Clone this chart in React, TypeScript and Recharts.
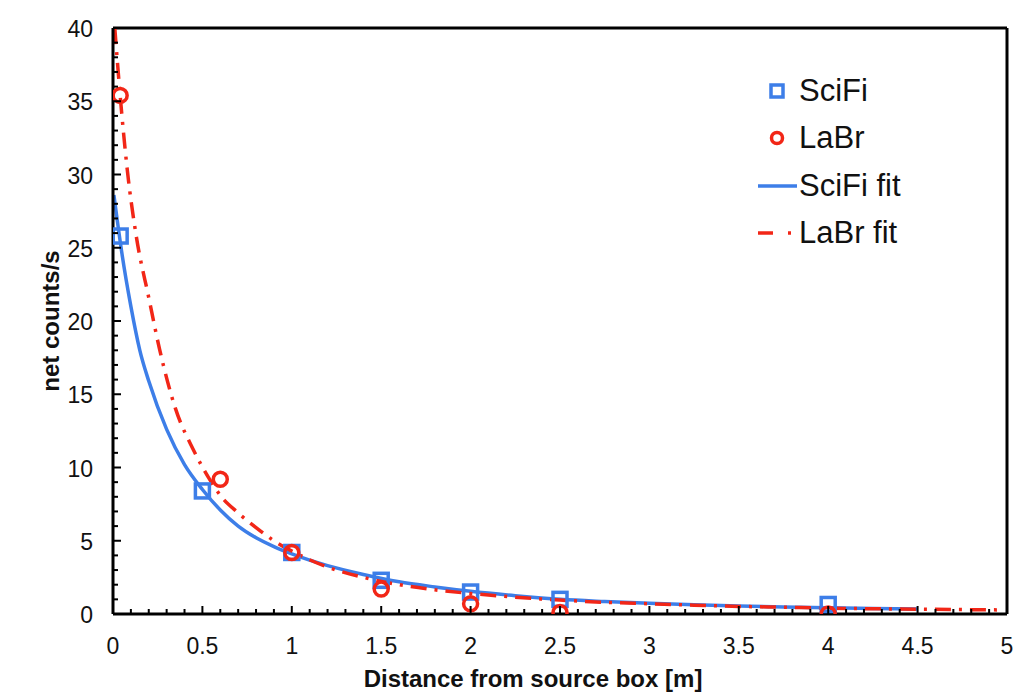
import { ComposedChart, Line, Scatter, XAxis, YAxis, ReferenceLine, Legend } from 'recharts';

// measured points
const sciFiX = [0.04, 0.5, 1, 1.5, 2, 2.5, 4];
const sciFiY = [25.8, 8.4, 4.2, 2.3, 1.5, 1.0, 0.65];
const laBrX = [0.04, 0.6, 1, 1.5, 2, 2.5, 4];
const laBrY = [35.4, 9.2, 4.2, 1.7, 0.7, 0.1, 0.0];

// fit curves
const sciFiFitX = [0.005, 0.05, 0.1, 0.15, 0.2, 0.3, 0.4, 0.5, 0.6, 0.7, 0.8, 0.9, 1.0, 1.2, 1.4, 1.6, 1.8, 2.0, 2.25, 2.5, 2.75, 3.0, 3.25, 3.5, 3.75, 4.0, 4.25, 4.5];
const sciFiFitY = [28.6, 24.6, 21.0, 18.0, 15.9, 12.6, 10.2, 8.5, 7.1, 6.0, 5.2, 4.6, 4.1, 3.3, 2.7, 2.2, 1.85, 1.55, 1.25, 1.0, 0.85, 0.73, 0.63, 0.55, 0.48, 0.43, 0.38, 0.34];
const laBrFitX = [0.01, 0.04, 0.08, 0.13, 0.2, 0.26, 0.35, 0.45, 0.55, 0.6, 0.7, 0.8, 0.9, 1.0, 1.2, 1.4, 1.6, 1.8, 2.0, 2.25, 2.5, 2.75, 3.0, 3.25, 3.5, 3.75, 4.0, 4.25, 4.5, 4.75, 4.95];
const laBrFitY = [40, 35.4, 30.3, 25.8, 21.6, 18.1, 14.0, 11.2, 9.0, 8.1, 6.9, 5.9, 5.0, 4.3, 3.2, 2.5, 2.0, 1.65, 1.4, 1.15, 0.95, 0.8, 0.7, 0.6, 0.52, 0.46, 0.4, 0.36, 0.33, 0.3, 0.28];

const xTicks = Array.from({ length: 51 }, (_, i) => i / 10);
const yTicks = Array.from({ length: 41 }, (_, i) => i);

const zip = (xs: number[], ys: number[]) => xs.map((x, i) => ({ x, y: ys[i] }));

const BLUE = '#3d7ee8';
const RED = '#f22617';
const FONT = '"Liberation Sans", Arial, sans-serif';

function XTick({ x, y, payload }: any) {
  const v = payload.value;
  const major = Math.abs(v * 2 - Math.round(v * 2)) < 1e-6;
  return (
    <g>
      <line x1={x} x2={x} y1={y} y2={y - (major ? 8 : 5)} stroke="#000" strokeWidth={2} />
      {major && (
        <text x={x} y={y + 32} textAnchor="middle" dominantBaseline="central" fontSize={23} fontFamily={FONT} fill="#111">
          {v}
        </text>
      )}
    </g>
  );
}

function YTick({ x, y, payload }: any) {
  const v = payload.value;
  const major = v % 5 === 0;
  return (
    <g>
      <line x1={x} x2={x + (major ? 8 : 5)} y1={y} y2={y} stroke="#000" strokeWidth={2} />
      {major && (
        <text x={x - 20} y={y + 1} textAnchor="end" dominantBaseline="central" fontSize={23} fontFamily={FONT} fill="#111">
          {v}
        </text>
      )}
    </g>
  );
}

const squareShape = ({ cx, cy }: any) => (
  <rect x={cx - 7} y={cy - 7} width={14} height={14} fill="none" stroke={BLUE} strokeWidth={3.5} />
);
const circleShape = ({ cx, cy }: any) => (
  <circle cx={cx} cy={cy} r={7} fill="none" stroke={RED} strokeWidth={3.5} />
);

function LegendBox() {
  const row = { display: 'flex', alignItems: 'center', height: 47.5 } as const;
  const label = { fontSize: 31, fontFamily: FONT, color: '#111', marginLeft: 1 } as const;
  return (
    <div>
      <div style={row}>
        <svg width={42} height={20}><rect x={15} y={4} width={12} height={12} fill="none" stroke={BLUE} strokeWidth={3.5} /></svg>
        <span style={label}>SciFi</span>
      </div>
      <div style={row}>
        <svg width={42} height={20}><circle cx={21} cy={10} r={5.5} fill="none" stroke={RED} strokeWidth={3.5} /></svg>
        <span style={label}>LaBr</span>
      </div>
      <div style={row}>
        <svg width={42} height={20}><line x1={2} x2={41} y1={10} y2={10} stroke={BLUE} strokeWidth={3.5} /></svg>
        <span style={label}>SciFi fit</span>
      </div>
      <div style={row}>
        <svg width={42} height={20}>
          <line x1={2} x2={17} y1={10} y2={10} stroke={RED} strokeWidth={3.5} />
          <line x1={32} x2={35} y1={10} y2={10} stroke={RED} strokeWidth={3.5} />
        </svg>
        <span style={label}>LaBr fit</span>
      </div>
    </div>
  );
}

export default function App() {
  return (
    <ComposedChart width={1015} height={685} margin={{ top: 20, right: 16, bottom: 9, left: 0 }} style={{ background: '#fff' }}>
      <XAxis
        type="number"
        dataKey="x"
        domain={[0, 5]}
        ticks={xTicks}
        interval={0}
        tickSize={0}
        tickMargin={0}
        tickLine={false}
        tick={<XTick />}
        axisLine={{ stroke: '#000', strokeWidth: 3 }}
        height={70}
        allowDataOverflow
        label={{
          content: ({ viewBox }: any) => (
            <text x={viewBox.x + 420} y={viewBox.y + 64} textAnchor="middle" dominantBaseline="central" fontSize={24} fontWeight="bold" fontFamily={FONT} fill="#111">
              Distance from source box [m]
            </text>
          ),
        }}
      />
      <YAxis
        type="number"
        domain={[0, 40]}
        ticks={yTicks}
        interval={0}
        tickSize={0}
        tickMargin={0}
        tickLine={false}
        tick={<YTick />}
        axisLine={{ stroke: '#000', strokeWidth: 3 }}
        width={105}
        allowDataOverflow
        label={{
          content: ({ viewBox }: any) => {
            const cx = viewBox.x + 42;
            const cy = viewBox.y + viewBox.height / 2;
            return (
              <text x={cx} y={cy} transform={`rotate(-90 ${cx} ${cy})`} textAnchor="middle" dominantBaseline="central" fontSize={24} fontWeight="bold" fontFamily={FONT} fill="#111">
                net counts/s
              </text>
            );
          },
        }}
      />
      <ReferenceLine y={40} stroke="#000" strokeWidth={3} />
      <ReferenceLine x={5} stroke="#000" strokeWidth={3} />
      <Line data={zip(sciFiFitX, sciFiFitY)} dataKey="y" type="monotone" stroke={BLUE} strokeWidth={3.5} dot={false} isAnimationActive={false} name="SciFi fit" />
      <Line data={zip(laBrFitX, laBrFitY)} dataKey="y" type="monotone" stroke={RED} strokeWidth={3.5} strokeDasharray="16 8 3 8" dot={false} isAnimationActive={false} name="LaBr fit" />
      <Scatter data={zip(sciFiX, sciFiY)} dataKey="y" shape={squareShape} isAnimationActive={false} name="SciFi" />
      <Scatter data={zip(laBrX, laBrY)} dataKey="y" shape={circleShape} isAnimationActive={false} name="LaBr" />
      <Legend
        layout="vertical"
        align="center"
        verticalAlign="middle"
        content={<LegendBox />}
        wrapperStyle={{ left: 748, top: 59, width: 230, height: 190 }}
      />
    </ComposedChart>
  );
}
